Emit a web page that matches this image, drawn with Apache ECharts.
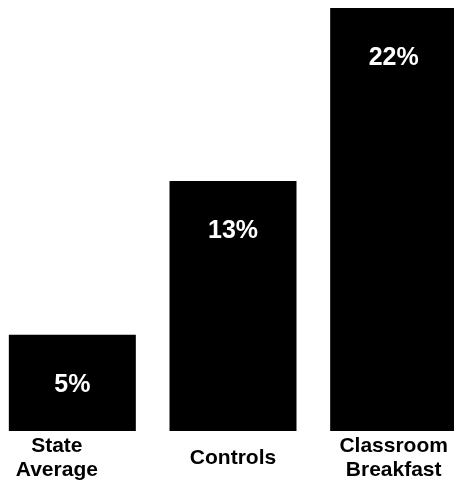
<!DOCTYPE html>
<html><head><meta charset="utf-8">
<script src="https://cdn.jsdelivr.net/npm/echarts@6/dist/echarts.min.js"></script>
<style>html,body{margin:0;padding:0;background:#fff}#c{width:454px;height:483px}</style>
</head><body><div id="c"></div>
<script>
const categories = ['State\nAverage', 'Controls', 'Classroom\nBreakfast'];
const values = [5, 13, 22];

const FONT = '"Liberation Sans", sans-serif';
const chart = echarts.init(document.getElementById('c'), null, {renderer: 'canvas'});
chart.setOption({
  animation: false,
  backgroundColor: '#fff',
  grid: {left: -8, width: 482, top: 8, bottom: 52, containLabel: false, outerBoundsMode: 'none'},
  xAxis: {
    type: 'category',
    data: categories.map((c, i) => i === 0 ? {value: c, textStyle: {padding: [0, 31, 0, 0], verticalAlign: 'middle'}} : c),
    axisLine: {show: false}, axisTick: {show: false},
    axisLabel: {
      interval: 0, margin: 27, verticalAlign: 'middle',
      color: '#000', fontFamily: FONT, fontWeight: 'bold', fontSize: 21, lineHeight: 24
    }
  },
  yAxis: {type: 'value', min: 0, max: 22, show: false, splitLine: {show: false}},
  series: [{
    type: 'bar', data: values, barWidth: 127,
    itemStyle: {color: '#000'},
    label: {
      show: true, position: 'insideTop', distance: 38,
      formatter: p => p.value + '%',
      color: '#fff', fontFamily: FONT, fontWeight: 'bold', fontSize: 25
    }
  }]
});
</script></body></html>
